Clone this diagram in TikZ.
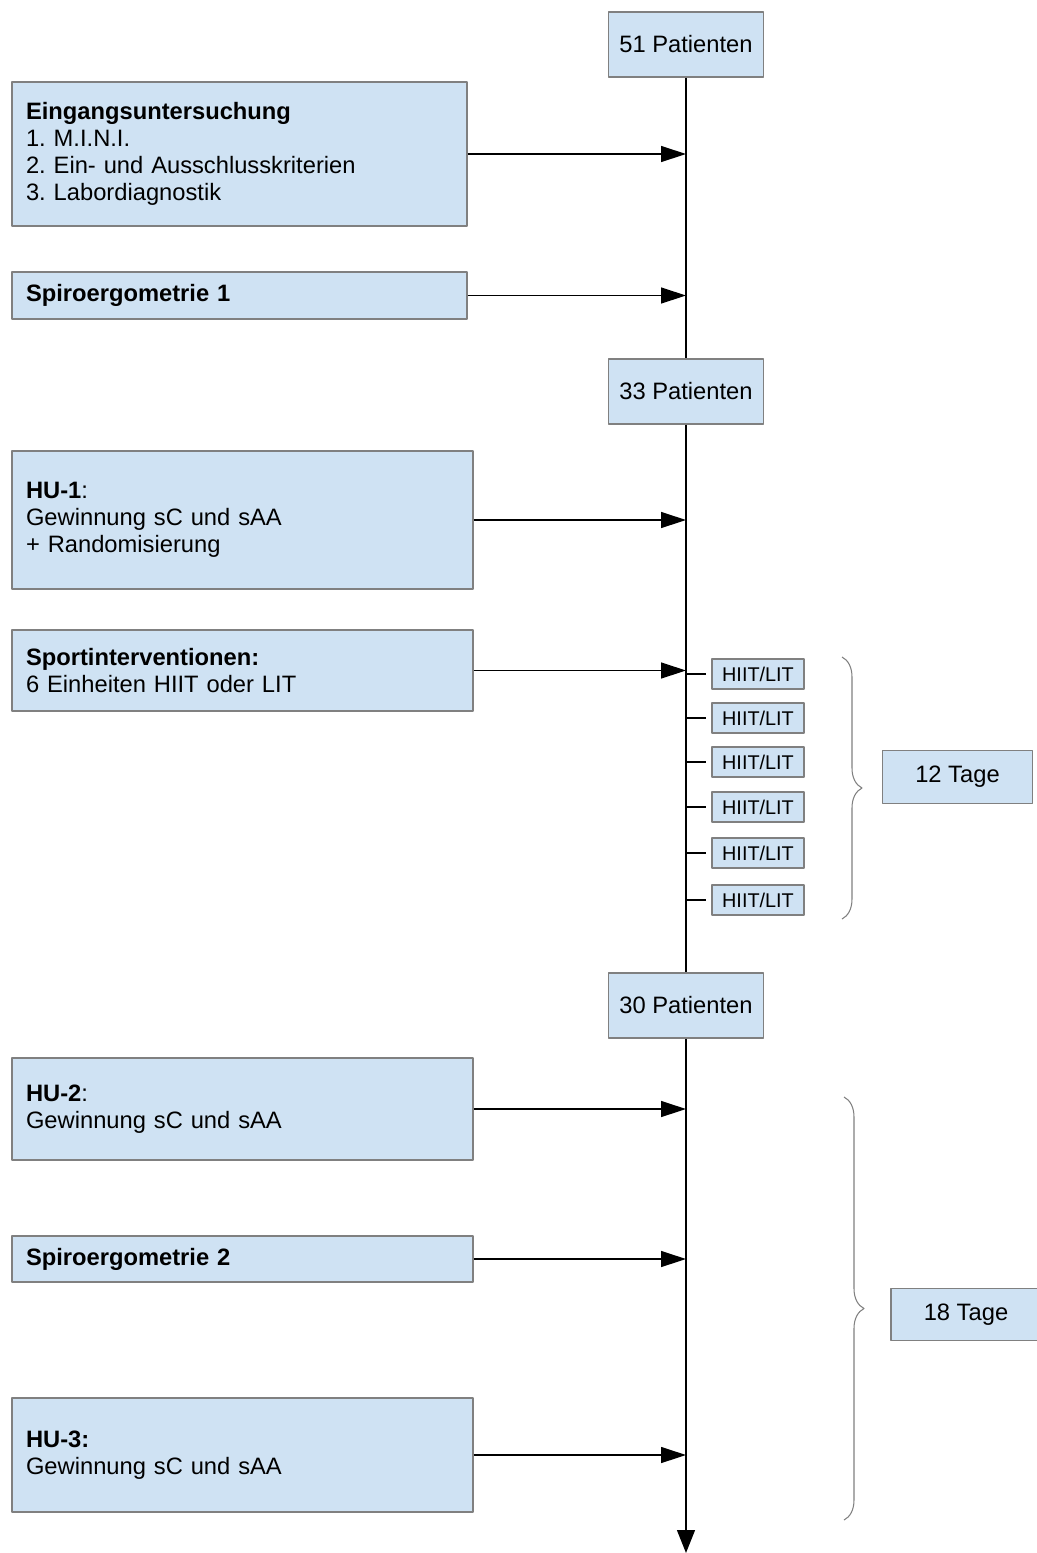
\documentclass[tikz,border=0pt]{standalone}
\usepackage{fontspec}
\setmainfont{Liberation Sans}
\usetikzlibrary{arrows.meta,decorations.pathreplacing}
\definecolor{boxblue}{RGB}{207,226,243}
\definecolor{boxline}{RGB}{128,128,128}
\frenchspacing

\begin{document}
\begin{tikzpicture}[x=0.02cm, y=-0.02cm, line join=round,
    font=\fontsize{13.5}{15.4}\selectfont,
    box/.style={draw=boxline, fill=boxblue, line width=0.8pt},
    leftbox/.style={box, align=left, text width=8.66cm, inner xsep=0.28cm, inner ysep=0pt},
    countbox/.style={box, minimum width=3.1cm, minimum height=1.3cm},
    unitbox/.style={box, minimum width=1.84cm, minimum height=0.6cm, inner sep=0pt, font=\fontsize{11.3}{13}\selectfont},
    tagebox/.style={box, minimum width=3cm, minimum height=1.05cm},
    flow/.style={line width=0.75pt, -{Triangle[length=0.5cm, width=0.32cm]}},
    daybrace/.style={decorate, decoration={brace, amplitude=0.4cm}, draw=boxline, line width=0.6pt}]
  \useasboundingbox (0,0) rectangle (1036,1553);

  % Patientenzahlen auf der Zeitachse
  \node[countbox] (n51) at (686,44.5) {51 Patienten};
  \node[countbox] (n33) at (686,391.5) {33 Patienten};
  \node[countbox] (n30) at (686,1005.5) {30 Patienten};
  \coordinate (ende) at (686,1553);

  % Untersuchungen links
  \node[leftbox, text width=8.54cm, minimum height=2.88cm] (eing) at (239.5,154)
    {\textbf{Eingangsuntersuchung}\\1. M.I.N.I.\\2. Ein- und Ausschlusskriterien\\3. Labordiagnostik};
  \node[leftbox, text width=8.54cm, minimum height=0.94cm] (spiro1) at (239.5,295.5)
    {\textbf{Spiroergometrie 1}};
  \node[leftbox, minimum height=2.76cm] (hu1) at (242.5,520)
    {\textbf{HU-1}:\\Gewinnung sC und sAA\\+ Randomisierung};
  \node[leftbox, minimum height=1.62cm] (sport) at (242.5,670.5)
    {\textbf{Sportinterventionen:}\\6 Einheiten HIIT oder LIT};
  \node[leftbox, minimum height=2.04cm] (hu2) at (242.5,1109)
    {\textbf{HU-2}:\\Gewinnung sC und sAA};
  \node[leftbox, minimum height=0.92cm] (spiro2) at (242.5,1259)
    {\textbf{Spiroergometrie 2}};
  \node[leftbox, minimum height=2.28cm] (hu3) at (242.5,1455)
    {\textbf{HU-3:}\\Gewinnung sC und sAA};

  % Trainingseinheiten
  \foreach \i/\y in {1/674,2/718,3/762,4/807,5/853,6/900}{
    \node[unitbox] (h\i) at (758,\y) {HIIT/LIT};
    \draw[line width=0.75pt] (h\i.west -| n33.south) -- ([xshift=-0.1cm]h\i.west);
  }

  \node[tagebox] (tage12) at (957.5,777) {12 Tage};
  \node[tagebox] (tage18) at (966,1314.5) {18 Tage};

  % Zeitachse
  \draw[line width=0.75pt] (n51) -- (n33);
  \draw[line width=0.75pt] (n33) -- (n30);
  \draw[line width=0.75pt, -{Triangle[length=0.46cm, width=0.36cm]}] (n30) -- (ende);

  \foreach \src in {eing,spiro1,hu1,sport,hu2,spiro2,hu3}
    \draw[flow] (\src.east) -- (\src.east -| n51.south);

  % Klammern
  \coordinate (k1a) at (842,657);
  \coordinate (k1b) at (842,919);
  \coordinate (k2a) at (844,1097);
  \coordinate (k2b) at (844,1520);
  \draw[daybrace] (k1a) -- (k1b);
  \draw[daybrace] (k2a) -- (k2b);
\end{tikzpicture}
\end{document}
